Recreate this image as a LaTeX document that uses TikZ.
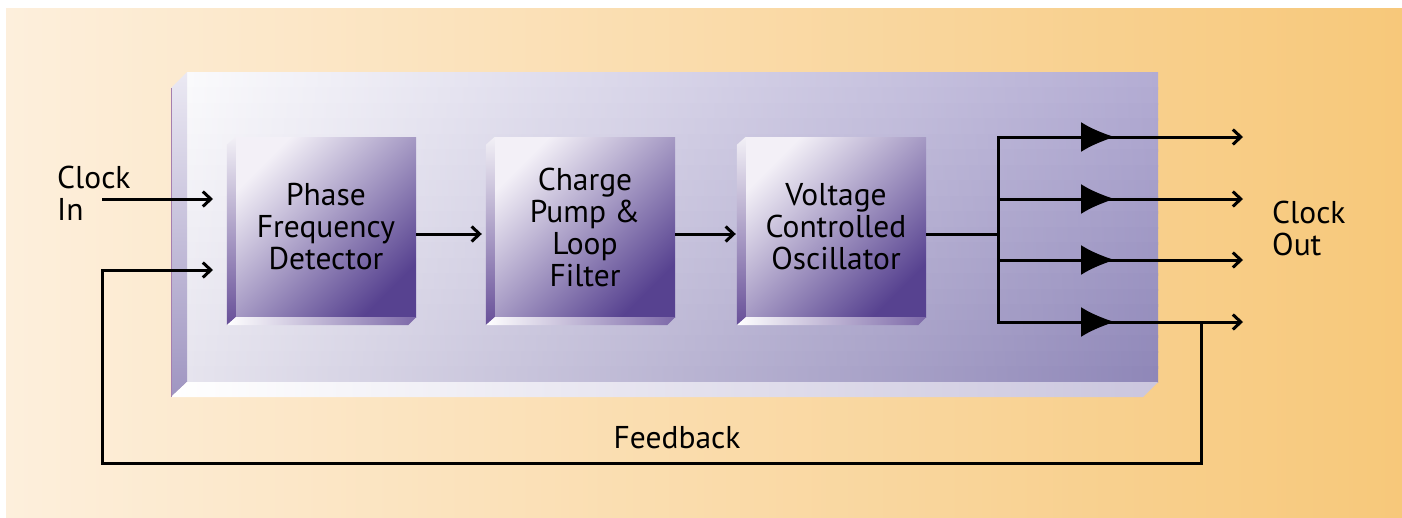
\documentclass[tikz,border=0pt]{standalone}
\usepackage{fontspec}
\setmainfont{PT Sans}
\usetikzlibrary{arrows.meta, calc, decorations.markings}

\definecolor{bgLeft}{HTML}{FDEFDC}
\definecolor{bgRight}{HTML}{F7C87A}
\definecolor{panelTL}{HTML}{FAFAFC}
\definecolor{panelTR}{HTML}{B3ACD3}
\definecolor{panelBL}{HTML}{E6E4EE}
\definecolor{panelBR}{HTML}{8F87B8}
\definecolor{panelSideTop}{HTML}{EBE9F3}
\definecolor{panelSideBot}{HTML}{9F95C1}
\definecolor{panelFoot}{HTML}{CBC6DE}
\definecolor{panelEdge}{HTML}{A57FAE}
\definecolor{blockLight}{HTML}{F3F0F7}
\definecolor{blockDark}{HTML}{574290}
\definecolor{blockSideTop}{HTML}{F2F0F6}
\definecolor{blockSideBot}{HTML}{674F98}
\definecolor{blockFoot}{HTML}{7C68A8}

\begin{document}
\begin{tikzpicture}[
    x=1pt, y=-1pt,
    >={Straight Barb[length=8pt, width=15pt]}, % open chevron tips
    font=\fontsize{31.5}{32}\selectfont,
    wire/.style={line width=3pt},
    flow/.style={wire, ->},
    tapline/.style={flow, postaction={decorate},
        decoration={markings, mark=at position 117pt with {\arrow{Latex[length=34pt, width=30pt]}}}},
    block/.style={rectangle, minimum width=180pt, minimum height=180pt, inner sep=0pt,
        align=center, top color=blockLight, bottom color=blockDark, shading angle=45},
    side/.style={top color=blockSideTop, bottom color=blockSideBot},
    foot/.style={left color=white, right color=blockFoot},
    label text/.style={inner sep=0pt, align=left}
]

    \useasboundingbox (0,0) rectangle (1402,517);

    % === Background ===
    \shade[left color=bgLeft, right color=bgRight] (6,8) rectangle (1402,517);

    % === Panel (slab) ===
    \coordinate (panel nw) at (187,72);
    \coordinate (panel se) at (1158,382);
    \coordinate (panel sw) at (187,382);
    % face: horizontal bands, blended from top row to bottom row
    \begin{scope}
        \clip (panel nw) rectangle (panel se);
        \foreach \k in {0,...,19}{
            \pgfmathsetmacro\p{100-100*\k/19}
            \shade[left color=panelTL!\p!panelBL, right color=panelTR!\p!panelBR]
                (187,72+15.5*\k) rectangle (1158,72+15.5*\k+17);
        }
    \end{scope}
    \shade[top color=panelSideTop, bottom color=panelSideBot]
        (171,88) -- (panel nw) -- (panel sw) -- (171,397) -- cycle;
    \shade[left color=white, right color=panelFoot]
        (171,397) -- (panel sw) -- (panel se) -- (1143,397) -- cycle;
    \draw[panelEdge, line width=0.8pt] (171,88) -- (171,397);

    % === Blocks ===
    \node[block] (pfd) at (326,227) {Phase\\Frequency\\Detector};
    \node[block] (cp)  at (585,227) {Charge\\Pump \&\\Loop\\Filter};
    \node[block] (vco) at (836,227) {Voltage\\Controlled\\Oscillator};

    % bevels on the left and bottom of each block
    \foreach \b in {pfd,cp,vco}{
        \shade[side] ($(\b.north west)+(-9,8)$) -- (\b.north west)
            -- (\b.south west) -- ($(\b.south west)+(-9,8)$) -- cycle;
        \shade[foot] ($(\b.south west)+(-9,8)$) -- (\b.south west)
            -- (\b.south east) -- ($(\b.south east)+(-8,8)$) -- cycle;
    }

    % === Labels ===
    \node[label text, anchor=west] (clk in)  at (57,193)   {Clock\\In};
    \node[label text, anchor=west] (clk out) at (1272,228) {Clock\\Out};
    \node[label text] (fb) at (677,438) {Feedback};

    % === Coordinates for the wiring ===
    \coordinate (src) at (102,199);
    \coordinate (in1) at (213,199);
    \coordinate (in2) at (213,270);
    \coordinate (bus) at (998,234);
    \coordinate (fb tap) at (1201,322);
    \coordinate (fb low) at (102,463);
    \foreach \i/\y in {1/137,2/199,3/260,4/322}{
        \coordinate (tap\i) at (998,\y);
        \coordinate (out\i) at (1243,\y);
    }

    % === Forward path ===
    \draw[flow] (src) -- (in1);
    \draw[flow] ([yshift=-7pt]pfd.east) -- ([xshift=-13pt, yshift=-7pt]cp.west);
    \draw[flow] ([yshift=-7pt]cp.east) -- ([xshift=-10pt, yshift=-7pt]vco.west);
    \draw[wire] ([yshift=-7pt]vco.east) -- (bus);
    \draw[wire, line cap=rect] (tap1) -- (tap4);

    % === Outputs ===
    \foreach \i in {1,...,4}
        \draw[tapline] (tap\i) -- (out\i);

    % === Feedback loop ===
    \draw[flow] (fb tap) |- (fb low) |- (in2);

\end{tikzpicture}
\end{document}
